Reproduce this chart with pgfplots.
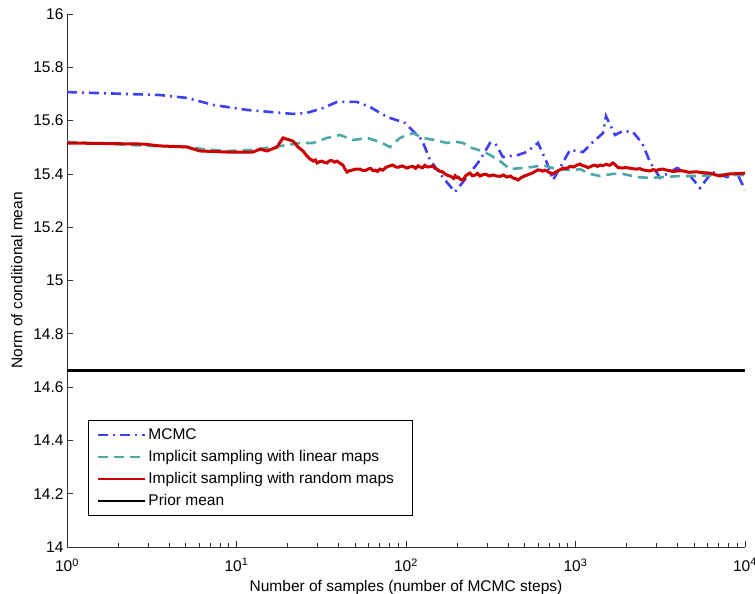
\documentclass[border=0pt]{standalone}
\usepackage{fontspec}
\setmainfont{Liberation Sans}
\usepackage{pgfplots}
\pgfplotsset{compat=1.18}
\definecolor{mblue}{RGB}{64,64,240}
\definecolor{mteal}{RGB}{78,168,168}
\definecolor{mred}{RGB}{204,0,0}
\begin{document}
\begin{tikzpicture}
\begin{axis}[
  scale only axis, width=678bp, height=533bp,
  xmode=log, xmin=1, xmax=10000, ymin=14, ymax=16,
  axis x line*=bottom, axis y line*=left,
  axis line style={-, line width=0.8bp, black!80},
  tick align=inside,
  xtick={1,10,100,1000,10000},
  xticklabels={10\textsuperscript{0},10\textsuperscript{1},10\textsuperscript{2},10\textsuperscript{3},10\textsuperscript{4}},
  xticklabel style={yshift=-8bp},
  ytick={14,14.2,14.4,14.6,14.8,15,15.2,15.4,15.6,15.8,16},
  yticklabel style={/pgf/number format/fixed,/pgf/number format/precision=1},
  /pgf/number format/assume math mode=true,
  tick label style={font=\fontsize{15.5bp}{18.6bp}\selectfont},
  label style={font=\fontsize{15.5bp}{18.6bp}\selectfont},
  xlabel={Number of samples (number of MCMC steps)},
  xlabel style={yshift=-2bp},
  ylabel={Norm of conditional mean},
  ylabel style={yshift=4bp},
  major tick length=6bp, minor tick length=4bp,
  tick style={black!80, line width=0.6bp},
  legend style={at={(0.0310,0.058)}, anchor=south west, draw=black, line width=0.8bp,
    font=\fontsize{15.5bp}{18.6bp}\selectfont, inner xsep=9bp, inner ysep=6.5bp, row sep=5.3bp},
  legend cell align=left,
  legend image code/.code={\draw[line width=2bp] plot coordinates {(0bp,0bp) (47bp,0bp)};},
]
\addplot[mblue, line width=2.6bp, dash pattern=on 10bp off 5bp on 2bp off 5bp] coordinates {
(1,15.707) (3.538,15.696) (5.105,15.685) (7.266,15.659) (11.53,15.640) (21.54,15.625)
(26.06,15.629) (32.38,15.647) (39.16,15.670) (51.39,15.670) (61.33,15.651) (77.26,15.614)
(98.65,15.591) (124.3,15.527) (138.6,15.452) (169.9,15.377) (194.6,15.332) (238.6,15.403)
(273.3,15.452) (313.1,15.516) (335.1,15.516) (373.5,15.463) (458,15.471) (514,15.482)
(601,15.516) (679.2,15.441) (736.9,15.377) (928.3,15.490) (1107,15.482) (1251,15.516)
(1453,15.553) (1513,15.617) (1710,15.546) (1906,15.561) (2184,15.557) (2469,15.516)
(2751,15.445) (3151,15.385) (3971,15.422) (4549,15.407) (5428,15.347) (6389,15.407)
(7831,15.388) (8970,15.403) (10000,15.340)
};
\addlegendentry{MCMC}
\addplot[mteal, line width=2.6bp, dash pattern=on 10bp off 6bp] coordinates {
(1,15.520) (3.088,15.505) (5.105,15.501) (6.346,15.493) (8.79,15.486) (12.51,15.490)
(16.42,15.501) (19.86,15.508) (23.70,15.516) (28.27,15.516) (34.20,15.535) (40.79,15.546)
(48.68,15.527) (58.88,15.535) (70.25,15.520) (80.47,15.501) (92.17,15.535) (110,15.553)
(126,15.535) (148.3,15.527) (174.6,15.516) (200,15.520) (216.9,15.516) (245.2,15.497)
(280.8,15.486) (313.1,15.471) (358.6,15.448) (410.8,15.418) (483.6,15.422) (561.6,15.426)
(634.6,15.433) (736.9,15.422) (844.1,15.415) (993.3,15.415) (1063,15.418) (1218,15.400)
(1395,15.392) (1664,15.400) (1906,15.400) (2307,15.388) (2751,15.385) (3282,15.388)
(4136,15.392) (5211,15.392) (6476,15.396) (8155,15.396) (10000,15.396)
};
\addlegendentry{Implicit sampling with linear maps}
\addplot[mred, line width=3bp] coordinates {
(1,15.516) (2.808,15.512) (3.538,15.505) (5.105,15.501) (6.09,15.486) (8.79,15.482)
(12.51,15.482) (13.76,15.493) (15.13,15.486) (17.34,15.501) (18.81,15.535) (21.54,15.523)
(23.06,15.501) (24.68,15.486)
(25.8,15.470) (26.5,15.462) (27.14,15.456) (28.4,15.448) (29.2,15.452) (29.85,15.441)
(31.0,15.446) (31.94,15.448) (33.0,15.443) (34.20,15.441) (35.3,15.449) (36.5,15.450)
(38.0,15.444) (39.16,15.448) (40.8,15.440) (42.49,15.433) (43.5,15.420) (44.86,15.407)
(46.5,15.412) (48.0,15.414) (50.5,15.418) (53.54,15.418) (55.5,15.413) (58.0,15.413)
(60.0,15.419) (62.0,15.420) (64.0,15.412) (66.0,15.414) (68.0,15.409) (70.25,15.418)
(73.0,15.414) (76.0,15.424) (80.0,15.430) (83.81,15.433) (87.0,15.426) (90.0,15.425)
(95.0,15.430) (101.4,15.422) (105.0,15.426) (110.0,15.428) (114.0,15.421) (117.7,15.430)
(121.0,15.426) (125.0,15.423) (129,15.432) (133,15.426) (139,15.427) (144.3,15.430)
(148,15.421) (152,15.418) (158,15.410) (165.3,15.407) (170,15.400) (175,15.395)
(181,15.392) (186.8,15.388) (191,15.383) (195,15.393) (199,15.387) (202.7,15.388)
(209,15.380) (216.9,15.377) (226,15.394) (232,15.399) (238.6,15.403) (246,15.393)
(255,15.395) (264,15.402) (273.3,15.392) (284,15.397) (295,15.399) (310,15.392)
(326,15.396) (342,15.392) (360,15.391) (376,15.396) (394,15.388) (412,15.392)
(430,15.384) (445,15.382) (458,15.377) (478,15.386) (500,15.392) (520,15.396)
(539,15.400) (560,15.404) (580,15.410) (601,15.415) (620,15.414) (640,15.410)
(660,15.414) (679,15.411) (700,15.405) (720,15.402) (737,15.400) (760,15.406)
(790,15.412) (815,15.416) (844,15.422) (880,15.420) (930,15.428) (975,15.426)
(1020,15.433) (1063,15.437) (1100,15.431) (1140,15.429) (1180,15.424) (1218,15.426)
(1260,15.431) (1300,15.433) (1350,15.428) (1395,15.433) (1450,15.431) (1520,15.436)
(1590,15.432) (1664,15.441) (1720,15.434) (1780,15.424) (1881,15.422) (1990,15.424)
(2100,15.421) (2200,15.419) (2307,15.418) (2400,15.420) (2500,15.415) (2620,15.413)
(2751,15.411) (2870,15.416) (3000,15.413) (3140,15.417) (3282,15.418) (3450,15.414)
(3600,15.412) (3780,15.409) (3971,15.411) (4200,15.412) (4400,15.410) (4650,15.406)
(4934,15.407) (5200,15.408) (5500,15.405) (5850,15.404) (6217,15.403) (6650,15.397)
(7121,15.392) (7600,15.397) (8155,15.400) (9000,15.401) (10000,15.403)
};
\addlegendentry{Implicit sampling with random maps\rule{7bp}{0bp}}
\addplot[black, line width=2.6bp] coordinates {(1,14.662) (10000,14.662)};
\addlegendentry{Prior mean}
\end{axis}
\pgfresetboundingbox
\path ([shift={(-67bp,-47bp)}]current axis.south west) rectangle ([shift={(10bp,14bp)}]current axis.north east);
\end{tikzpicture}
\end{document}
